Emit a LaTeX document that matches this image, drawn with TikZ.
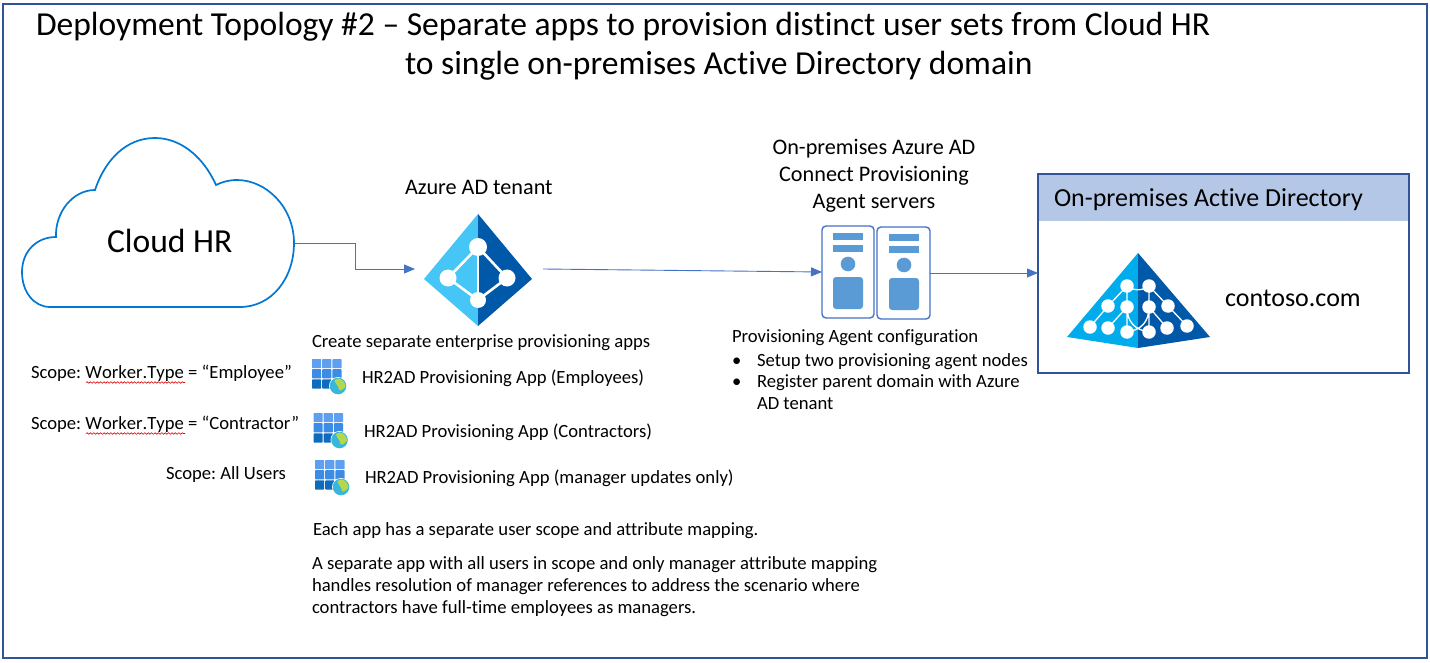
\documentclass[tikz,border=0pt]{standalone}
\usepackage{fontspec}
\setmainfont[Ligatures=NoCommon]{Carlito}
\frenchspacing
\newcommand{\nokern}[1]{{\addfontfeature{Kerning=Off}#1}}
\usetikzlibrary{arrows.meta,decorations.pathmorphing}
\definecolor{frameblue}{HTML}{2F5597}
\definecolor{linkblue}{HTML}{4472C4}
\definecolor{cloudblue}{HTML}{0078D4}
\definecolor{headfill}{HTML}{B4C7E7}
\definecolor{lightaz}{HTML}{45C6F6}
\definecolor{darkaz}{HTML}{0058A8}
\definecolor{skyaz}{HTML}{00ACEC}
\definecolor{srvblue}{HTML}{5B9BD5}
\definecolor{tilea}{HTML}{5EA0EF}
\definecolor{tileb}{HTML}{3C8CE6}
\definecolor{tilec}{HTML}{0F6CBD}
\definecolor{globea}{HTML}{38B6DC}
\definecolor{globeb}{HTML}{B4D84A}
\tikzset{
  x=1pt,y=-1pt,
  txt/.style={anchor=base west,inner sep=0pt,outer sep=0pt,text=black,font=\fontsize{18.65}{22}\selectfont},
  midtxt/.style={anchor=base,inner sep=0pt,outer sep=0pt,text=black,font=\fontsize{22.2}{26}\selectfont},
  titletxt/.style={txt,font=\fontsize{33.55}{38}\selectfont},
  bigtxt/.style={txt,font=\fontsize{26}{30}\selectfont},
  link/.style={linkblue,line width=0.9pt},
  linkarrow/.style={link,-{Triangle[length=11pt,width=9pt]}},
  wavy/.style={red!85!black,line width=0.6pt,decorate,decoration={snake,amplitude=0.8pt,segment length=3.4pt}},
  srvbox/.style={draw=linkblue,line width=1.4pt,rounded corners=4pt,fill=white},
  srvfill/.style={fill=srvblue},
  dot/.style={fill=white,circle,inner sep=0pt},
  appicon/.pic={
    \foreach \cx/\cy/\col in {0/0/tilea,10.2/0/tilea,20.4/0/tilea,0/10.2/tileb,10.2/10.2/tileb,20.4/10.2/tileb,0/20.4/tilec,10.2/20.4/tilec}
      \fill[\col,rounded corners=0.7pt] (\cx,\cy) rectangle ++(9.2,9.2);
    \fill[white] (26,27) circle (9);
    \fill[globea] (26,27) circle (8.3);
    \fill[globeb] (26,19.5) .. controls (31,20) and (33.5,24) .. (33.5,28) .. controls (31,29) and (29.5,33) .. (27,31) .. controls (27,27) and (23,25) .. (22.5,21) -- cycle;
  }
}
\begin{document}
\begin{tikzpicture}
\useasboundingbox (0,0) rectangle (1430,663);
\fill[white] (0,0) rectangle (1430,663);
\draw[frameblue,line width=1.4pt] (3,4) rectangle (1427,658);

% titles
\node[titletxt] (title1) at (36,36) {Deployment Topology \#2 – Separate apps to provision distinct user sets from Cloud HR};
\node[titletxt] (title2) at (405,75) {to single on-premises Active Directory domain};

% cloud
\draw[cloudblue,line width=1.7pt,fill=white] (50,307) -- (240,307)
  .. controls (272,307) and (294,278) .. (294,243)
  .. controls (294,207) and (266,180) .. (237,180)
  .. controls (229,180) and (222,182) .. (216,185)
  .. controls (203,156) and (180,138) .. (155,138)
  .. controls (126,138) and (105,160) .. (95,190)
  .. controls (73,190) and (55,212) .. (56,237)
  .. controls (36,237) and (22,252) .. (22,272)
  .. controls (22,292) and (34,307) .. (50,307) -- cycle;
\node[txt,font=\fontsize{33.6}{38}\selectfont] (cloudhr) at (107,252) {Cloud HR};
\coordinate (cloudout) at (294,243);
\coordinate (elbowa) at (355,243);
\coordinate (elbowb) at (355,269);
\coordinate (azin) at (415,269);
\coordinate (azout) at (543,269);
\coordinate (srvin) at (822,272);
\coordinate (srvout) at (930,273);
\coordinate (adin) at (1038,273);

% Azure AD icon
\node[txt,font=\fontsize{22.2}{26}\selectfont] (aztenant) at (405,195) {Azure AD tenant};
\fill[lightaz] (478,214) -- (424,279) -- (478,326) -- cycle;
\fill[darkaz] (478,214) -- (532,279) -- (478,326) -- cycle;
\draw[white,line width=2.6pt,line join=miter] (478,247) -- (448,278) -- (478,300) -- (507,278) -- cycle;
\draw[white,line width=2.6pt] (478,247) -- (478,300);
\node[dot,minimum size=18pt] (azt) at (478,247) {};
\node[dot,minimum size=17pt] (azl) at (448,278) {};
\node[dot,minimum size=17pt] (azr) at (507,278) {};
\node[dot,minimum size=16pt] (azb) at (478,300) {};

% servers
\node[midtxt] (agent1) at (874,155) {On-premises Azure AD};
\node[midtxt] (agent2) at (874,182) {Connect Provisioning};
\node[midtxt] (agent3) at (874,209) {Agent servers};
\draw[srvbox] (822,226) rectangle (874,318);
\draw[srvbox] (877,227) rectangle (930,319);
\foreach \dx/\dy in {0/0,56/1}{
  \fill[srvfill] (833+\dx,233+\dy) rectangle ++(30,7);
  \fill[srvfill] (833+\dx,245+\dy) rectangle ++(30,7);
  \fill[srvfill] (848+\dx,264+\dy) circle (7.3);
  \fill[srvfill,rounded corners=3pt] (833+\dx,277+\dy) rectangle ++(30,32);
}

% AD box
\draw[frameblue,line width=1.4pt,fill=white] (1038,174) rectangle (1409,373);
\fill[headfill] (1039,175) rectangle (1408,221);
\node[bigtxt] (adtitle) at (1054,207) {On-premises Active Directory};
\fill[skyaz] (1138,253) -- (1067,337) -- (1138,348) -- cycle;
\fill[darkaz] (1138,253) -- (1210,337) -- (1138,348) -- cycle;
\draw[white,line width=1.3pt]
  (1127,286) .. controls (1133,291) and (1143,291) .. (1149,286)
  (1127,286) -- (1108,306) -- (1090,327)
  (1149,286) -- (1168,306) -- (1187,326)
  (1127,286) -- (1127,307) -- (1108,328)
  (1149,286) -- (1149,307) -- (1167,328)
  (1127,307) -- (1127,332) (1149,307) -- (1149,332)
  (1127,307) .. controls (1127,322) and (1135,330) .. (1149,332)
  (1149,307) .. controls (1149,322) and (1141,330) .. (1127,332);
\foreach \n/\px/\py in {a/1127/286,b/1149/286,c/1108/306,d/1127/307,e/1149/307,f/1168/306,g/1090/327,h/1108/328,i/1127/332,j/1149/332,k/1167/328,l/1187/326}
  \node[dot,minimum size=13.5pt] (ad\n) at (\px,\py) {};
\node[bigtxt] (contoso) at (1225,306) {contoso.com};

% connectors
\draw[linkarrow] (cloudout) -- (elbowa) -- (elbowb) -- (azin);
\draw[linkarrow] (azout) -- (srvin);
\draw[linkarrow] (srvout) -- (adin);

% scope texts
\node[txt] (create) at (312,347) {Create separate enterprise provisioning apps};
\node[txt] (scope1) at (31,378) {Scope: \nokern{Worker.Type} = “Employee”};
\node[txt] (scope2) at (31,429) {Scope: \nokern{Worker.Type} = “Contractor”};
\node[txt] (scope3) at (166,479) {Scope: All Users};
\coordinate (wa1) at (86,382.5); \coordinate (wb1) at (185,382.5);
\coordinate (wa2) at (86,433.5); \coordinate (wb2) at (185,433.5);
\draw[wavy] (wa1) -- (wb1);
\draw[wavy] (wa2) -- (wb2);
\pic at (312,359) {appicon};
\pic at (313.5,413) {appicon};
\pic at (315,460) {appicon};
\node[txt] (app1) at (362,383) {HR2AD Provisioning App (Employees)};
\node[txt] (app2) at (364,437) {HR2AD Provisioning App (Contractors)};
\node[txt] (app3) at (365,483) {HR2AD Provisioning App (manager updates only)};

% agent config
\node[txt] (cfg) at (732,342) {Provisioning Agent configuration};
\node[txt] (b1) at (732,366) {•};
\node[txt] (cfg1) at (757,366) {Setup two provisioning agent nodes};
\node[txt] (b2) at (732,387) {•};
\node[txt] (cfg2) at (757,387) {Register parent domain with Azure};
\node[txt] (cfg3) at (757,409) {AD tenant};

% notes
\node[txt] (note1) at (313,535) {Each app has a separate user scope and attribute mapping.};
\node[txt] (note2) at (312,569) {A separate app with all users in scope and only manager attribute mapping};
\node[txt] (note3) at (312,591) {handles resolution of manager references to address the scenario where};
\node[txt] (note4) at (312,613) {contractors have full-time employees as managers.};
\end{tikzpicture}
\end{document}
